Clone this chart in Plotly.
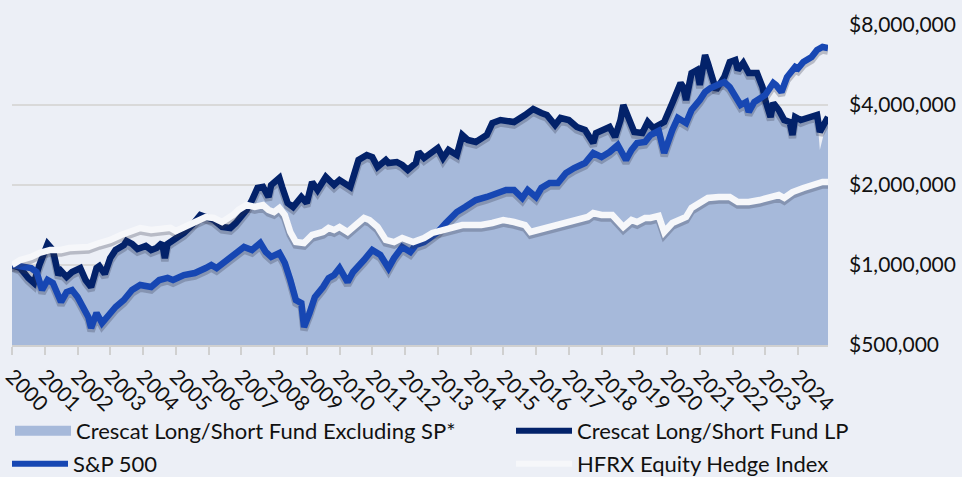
import plotly.graph_objects as go

# ---------------- data ----------------
lp_dates = ["2000-01","2000-04","2000-07","2000-09","2000-11","2001-01","2001-02","2001-04","2001-06","2001-07",
            "2001-09","2001-11","2002-02","2002-04","2002-06","2002-08","2002-09","2002-11","2003-01","2003-03",
            "2003-06","2003-07","2003-09","2003-11","2004-02","2004-04","2004-06","2004-08","2004-09","2004-10",
            "2004-12","2005-04","2005-07","2005-10","2005-12","2006-03","2006-06","2006-09","2006-11","2007-03",
            "2007-05","2007-07","2007-09","2007-11","2007-12","2008-03","2008-04","2008-06","2008-08","2008-11",
            "2009-01","2009-03","2009-05","2009-08","2009-11","2010-01","2010-05","2010-08","2010-11","2011-01",
            "2011-03","2011-06","2011-07","2011-10","2011-12","2012-02","2012-05","2012-06","2012-08","2013-01",
            "2013-03","2013-05","2013-08","2013-10","2013-12","2014-03","2014-07","2014-09","2014-12","2015-05",
            "2015-09","2015-12","2016-03","2016-05","2016-08","2016-10","2017-01","2017-04","2017-07","2017-09",
            "2017-10","2017-11","2018-02","2018-04","2018-06","2018-08","2018-09","2018-11","2019-01","2019-04",
            "2019-06","2019-08","2019-10","2019-12","2020-03","2020-06","2020-07","2020-08","2020-10","2020-12",
            "2021-01","2021-03","2021-04","2021-06","2021-07","2021-10","2021-12","2022-02","2022-03","2022-05",
            "2022-07","2022-10","2022-12","2023-01","2023-03","2023-04","2023-06","2023-08","2023-10","2023-11",
            "2023-12","2024-02","2024-05","2024-08","2024-09","2024-12"]
lp_values = [1000000,974000,893000,856000,1000000,1159000,1200000,1139000,917000,949000,
             901000,941000,974000,878000,826000,974000,991000,925000,1062000,1139000,
             1189000,1231000,1200000,1149000,1179000,1139000,1159000,1210000,1062000,1200000,
             1242000,1320000,1414000,1542000,1516000,1477000,1390000,1378000,1439000,1611000,
             1756000,1949000,1966000,1803000,2000000,2125000,1966000,1711000,1653000,1803000,
             1711000,2053000,1915000,2144000,2000000,2089000,1966000,2484000,2594000,2549000,
             2338000,2484000,2420000,2441000,2378000,2278000,2420000,2662000,2527000,2756000,
             2527000,2709000,2594000,3084000,2954000,2903000,3084000,3422000,3512000,3452000,
             3668000,3864000,3732000,3668000,3364000,3574000,3512000,3306000,3221000,3005000,
             2878000,3138000,3221000,3306000,3031000,3512000,4000000,3605000,3166000,3138000,
             3452000,3277000,3364000,3452000,4070000,4840000,4675000,4177000,5278000,5417000,
             4757000,6169000,5756000,4840000,4555000,5098000,5806000,5907000,5417000,5756000,
             5278000,5278000,4675000,4177000,3605000,4070000,3830000,3512000,3452000,3084000,
             3605000,3512000,3605000,3668000,3166000,3605000]

exsp_dates = list(lp_dates)
exsp_values = [1000000,974000,893000,856000,1000000,1159000,1200000,1139000,917000,949000,
               901000,941000,974000,878000,826000,974000,991000,925000,1062000,1139000,
               1189000,1231000,1200000,1149000,1179000,1139000,1159000,1210000,1062000,1200000,
               1242000,1320000,1414000,1542000,1516000,1477000,1390000,1378000,1439000,1611000,
               1756000,1949000,1966000,1803000,2000000,2125000,1966000,1711000,1653000,1803000,
               1711000,2053000,1915000,2144000,2000000,2089000,1966000,2484000,2594000,2549000,
               2338000,2484000,2420000,2441000,2378000,2278000,2420000,2662000,2527000,2756000,
               2527000,2709000,2594000,3084000,2954000,2903000,3084000,3422000,3512000,3452000,
               3668000,3864000,3732000,3668000,3364000,3574000,3512000,3306000,3221000,3005000,
               2878000,3138000,3221000,3306000,3031000,3512000,4000000,3605000,3166000,3138000,
               3452000,3277000,3364000,3452000,4070000,4840000,4675000,4177000,5278000,5417000,
               4757000,6169000,5756000,4840000,4555000,5098000,5806000,5907000,5417000,5756000,
               5278000,5278000,4675000,4177000,3605000,4070000,3830000,3512000,3452000,3084000,
               3605000,3512000,3605000,3668000,2709000,3605000]

sp_dates = ["2000-01","2000-04","2000-08","2000-10","2000-12","2001-02","2001-04","2001-07","2001-09","2001-11",
            "2002-01","2002-05","2002-06","2002-08","2002-10","2003-03","2003-06","2003-09","2003-12","2004-04",
            "2004-07","2004-10","2004-12","2005-04","2005-08","2005-12","2006-02","2006-04","2006-08","2006-11",
            "2007-02","2007-05","2007-08","2007-10","2007-12","2008-03","2008-05","2008-07","2008-09","2008-11",
            "2008-12","2009-02","2009-04","2009-07","2009-09","2009-11","2010-01","2010-04","2010-06","2010-10",
            "2011-01","2011-04","2011-07","2011-09","2011-12","2012-03","2012-05","2012-08","2013-01","2013-04",
            "2013-08","2013-11","2014-03","2014-07","2014-11","2015-02","2015-05","2015-08","2015-10","2016-01",
            "2016-03","2016-06","2016-09","2016-12","2017-03","2017-07","2017-10","2018-01","2018-04","2018-07",
            "2018-08","2018-10","2018-12","2019-02","2019-05","2019-07","2019-10","2019-12","2020-03","2020-05",
            "2020-08","2020-10","2021-01","2021-03","2021-05","2021-08","2021-10","2021-12","2022-02","2022-04",
            "2022-06","2022-07","2022-09","2022-11","2023-01","2023-04","2023-05","2023-07","2023-09","2023-12",
            "2024-01","2024-03","2024-06","2024-08","2024-10","2024-12"]
sp_values = [1000000,983000,974000,941000,805000,878000,856000,726000,791000,805000,
             758000,637000,579000,660000,605000,695000,738000,805000,841000,826000,
             878000,895000,878000,917000,933000,974000,1000000,974000,1044000,1110000,
             1169000,1139000,1210000,1119000,1072000,1110000,1018000,878000,738000,719000,
             584000,660000,758000,826000,893000,917000,974000,863000,941000,1044000,
             1139000,1091000,974000,1062000,1169000,1119000,1189000,1220000,1331000,1439000,
             1583000,1653000,1756000,1803000,1882000,1915000,1915000,1787000,1915000,1803000,
             1949000,2035000,2035000,2219000,2317000,2420000,2639000,2549000,2662000,2828000,
             2709000,2484000,2709000,2878000,2903000,3084000,3200000,2639000,3221000,3574000,
             3422000,3830000,4177000,4477000,4635000,4757000,4882000,4675000,4362000,4000000,
             4105000,3765000,4105000,4250000,4362000,4840000,4757000,4477000,5098000,5560000,
             5490000,5806000,6063000,6442000,6612000,6550000]

hfrx_dates = ["2000-01","2000-04","2000-08","2000-11","2001-03","2001-07","2001-10","2002-02","2002-05","2002-09",
              "2003-01","2003-05","2003-08","2003-12","2004-04","2004-08","2004-11","2005-01","2005-04","2005-08",
              "2005-12","2006-03","2006-06","2006-10","2006-12","2007-03","2007-06","2007-09","2007-11","2008-01",
              "2008-03","2008-05","2008-07","2008-09","2008-12","2009-03","2009-07","2009-09","2009-11","2010-01",
              "2010-04","2010-07","2010-10","2010-12","2011-03","2011-06","2011-09","2011-12","2012-04","2012-08",
              "2012-11","2013-03","2013-06","2013-10","2014-02","2014-05","2014-09","2015-01","2015-05","2015-09",
              "2015-11","2016-03","2016-07","2016-10","2017-02","2017-06","2017-08","2017-10","2018-01","2018-05",
              "2018-07","2018-09","2018-12","2019-02","2019-05","2019-07","2019-10","2019-12","2020-03","2020-05",
              "2020-08","2020-10","2021-01","2021-04","2021-08","2021-12","2022-03","2022-07","2022-11","2023-02",
              "2023-06","2023-08","2023-11","2024-03","2024-06","2024-10","2024-12"]
hfrx_values = [1000000,1044000,1072000,1110000,1139000,1139000,1159000,1169000,1169000,1210000,
               1242000,1297000,1331000,1378000,1354000,1366000,1380000,1342000,1390000,1451000,
               1516000,1503000,1451000,1542000,1611000,1682000,1653000,1682000,1611000,1583000,
               1639000,1542000,1331000,1220000,1210000,1297000,1331000,1378000,1354000,1390000,
               1331000,1414000,1503000,1477000,1390000,1242000,1220000,1264000,1220000,1264000,
               1320000,1354000,1378000,1414000,1414000,1414000,1439000,1477000,1451000,1414000,
               1331000,1366000,1390000,1414000,1451000,1503000,1516000,1569000,1542000,1542000,
               1477000,1390000,1477000,1451000,1503000,1503000,1530000,1331000,1439000,1477000,
               1516000,1639000,1726000,1787000,1803000,1803000,1726000,1726000,1756000,1787000,
               1834000,1787000,1882000,1949000,2000000,2053000,2053000]

y_tickvals = [500000, 1000000, 2000000, 4000000, 8000000]
y_ticktext = ["$500,000", "$1,000,000", "$2,000,000", "$4,000,000", "$8,000,000"]

series_names = ["Crescat Long/Short Fund Excluding SP*", "Crescat Long/Short Fund LP",
                "S&P 500", "HFRX Equity Hedge Index"]

# ---------------- styling ----------------
BG = "#ECEFF6"
FILL = "#A6B9DA"
NAVY = "#03226A"
BLUE = "#1747B3"
WHITE = "#F6F7FA"
SHADOW = "rgba(50,55,75,0.28)"
FONT = "Lato"
TXT = "#111111"
LW = 6.5
SHADOW_FACTOR = 0.974   # shadow drawn ~3px below each line on the log axis
W, H = 962, 477

def d(lst):
    return [s + "-01" for s in lst]

fig = go.Figure()

# area (Excluding SP)
fig.add_trace(go.Scatter(x=d(exsp_dates), y=exsp_values, name=series_names[0], mode="lines",
                         line=dict(width=0, color=FILL), fill="tozeroy", fillcolor=FILL,
                         showlegend=False, hoverinfo="skip"))

line_series = [
    (lp_dates, lp_values, NAVY, series_names[1]),
    (sp_dates, sp_values, BLUE, series_names[2]),
    (hfrx_dates, hfrx_values, WHITE, series_names[3]),
]
for dates, vals, col, nm in line_series:
    fig.add_trace(go.Scatter(x=d(dates), y=[v * SHADOW_FACTOR for v in vals], mode="lines",
                             line=dict(width=LW + 1, color=SHADOW), showlegend=False,
                             hoverinfo="skip"))
    fig.add_trace(go.Scatter(x=d(dates), y=vals, mode="lines", name=nm,
                             line=dict(width=LW, color=col), showlegend=False))

# legend entries (one legend box per entry so that the two columns line up as in the reference)
legend_items = [
    (series_names[0], FILL, 13, "legend", 10, 431),
    (series_names[1], NAVY, 6, "legend2", 511, 431),
    (series_names[2], BLUE, 6, "legend3", 7, 464),
    (series_names[3], WHITE, 6, "legend4", 511, 464),
]
legend_layout = {}
for nm, col, w, lg, lx, ly in legend_items:
    fig.add_trace(go.Scatter(x=[None], y=[None], mode="lines", name=nm,
                             line=dict(width=w, color=col), legend=lg, showlegend=True))
    legend_layout[lg] = dict(orientation="h", xref="container", yref="container", x=lx / W,
                             y=1 - ly / H, xanchor="left", yanchor="middle", itemwidth=56,
                             bgcolor="rgba(0,0,0,0)", borderwidth=0,
                             font=dict(family=FONT, size=22, color=TXT),
                             itemclick=False, itemdoubleclick=False)

fig.update_layout(
    width=W, height=H,
    paper_bgcolor=BG, plot_bgcolor=BG,
    margin=dict(l=12, r=134, t=25, b=132, autoexpand=False),
    font=dict(family=FONT, size=20, color=TXT),
    showlegend=True,
    xaxis=dict(type="date", range=["2000-01-01", "2024-12-01"], tickmode="linear",
               tick0="2000-01-01", dtick="M12", tickformat="%Y", tickangle=45,
               ticks="outside", ticklen=8, tickwidth=2, tickcolor="#D0D0D0",
               showline=True, linecolor="#D0D0D0", linewidth=2, showgrid=False,
               zeroline=False, automargin=False, ticklabelstandoff=1,
               tickfont=dict(family=FONT, size=21, color=TXT)),
    yaxis=dict(type="log", range=[5.69897, 6.90309], side="right", tickmode="array",
               tickvals=y_tickvals, ticktext=y_ticktext, showgrid=True, gridcolor="#D9D9D9",
               gridwidth=2, zeroline=False, showline=False, ticks="", ticklabelstandoff=20,
               automargin=False, tickfont=dict(family=FONT, size=21, color=TXT)),
    **legend_layout,
)

# the page's default 8px body margin would shift the figure; remove it
fig.write_html("out.html",
               config={"displayModeBar": False},
               post_script="document.body.style.margin='0';"
                           "document.body.style.background='" + BG + "';")
